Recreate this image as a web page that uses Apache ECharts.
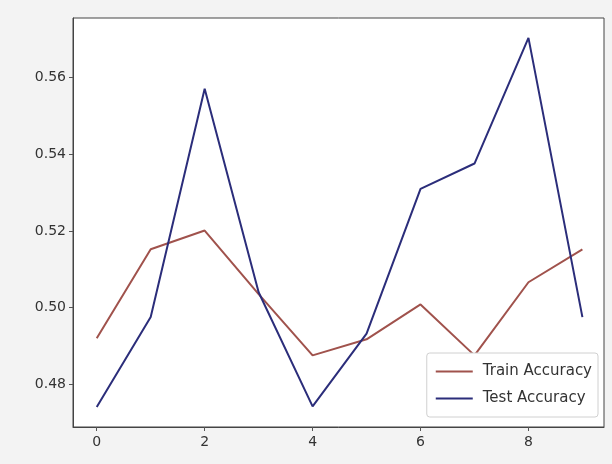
<!DOCTYPE html>
<html>
<head>
<meta charset="utf-8">
<script src="https://cdn.jsdelivr.net/npm/echarts@6/dist/echarts.min.js"></script>
<style>
html,body{margin:0;padding:0;background:#f3f3f3;}
#c{width:612px;height:464px;}
</style>
</head>
<body>
<div id="c"></div>
<script>
const epochs = [0,1,2,3,4,5,6,7,8,9];
const trainAccuracy = [0.492,0.5152,0.5201,0.5035,0.4875,0.4917,0.5008,0.4875,0.5066,0.5152];
const testAccuracy = [0.474,0.4975,0.5571,0.504,0.4742,0.4932,0.531,0.5376,0.5704,0.4975];
const yTicks = [0.48,0.50,0.52,0.54,0.56];
const xTicks = [0,2,4,6,8];

const chart = echarts.init(document.getElementById('c'));
const fnt = 'DejaVu Sans';
chart.setOption({
  backgroundColor: '#f3f3f3',
  animation: false,
  grid: {left: 73, right: 8, top: 18, bottom: 37, show: true, backgroundColor: '#ffffff', borderColor: '#444', borderWidth: 1},
  xAxis: {
    type: 'value', min: -0.44, max: 9.40,
    splitLine: {show: false},
    axisLine: {show: true, onZero: false, lineStyle: {color: '#444'}},
    axisTick: {show: true, length: 4, customValues: xTicks, lineStyle: {color: '#555'}},
    axisLabel: {customValues: xTicks, color: '#333', fontFamily: fnt, fontSize: 14, margin: 8, formatter: v => String(v)}
  },
  yAxis: {
    type: 'value', min: 0.4688, max: 0.5756,
    splitLine: {show: false},
    axisLine: {show: true, onZero: false, lineStyle: {color: '#444'}},
    axisTick: {show: true, length: 4, customValues: yTicks, lineStyle: {color: '#555'}},
    axisLabel: {customValues: yTicks, color: '#333', fontFamily: fnt, fontSize: 14, margin: 7, formatter: v => v.toFixed(2)}
  },
  legend: {
    orient: 'vertical', right: 14, bottom: 47,
    backgroundColor: '#ffffff', borderColor: '#d0d0d0', borderWidth: 1, borderRadius: 3,
    padding: [11, 6, 11, 9], itemGap: 12,
    icon: 'rect', itemWidth: 37, itemHeight: 2,
    textStyle: {color: '#333', fontFamily: fnt, fontSize: 15, padding: [0, 0, 0, 5]},
    data: ['Train Accuracy', 'Test Accuracy']
  },
  series: [
    {name: 'Train Accuracy', type: 'line', symbol: 'none', color: '#a0524c', lineStyle: {width: 2, color: '#a0524c'},
     data: epochs.map((e,i) => [e, trainAccuracy[i]])},
    {name: 'Test Accuracy', type: 'line', symbol: 'none', color: '#2b2d7a', lineStyle: {width: 2, color: '#2b2d7a'},
     data: epochs.map((e,i) => [e, testAccuracy[i]])}
  ]
});
</script>
</body>
</html>
